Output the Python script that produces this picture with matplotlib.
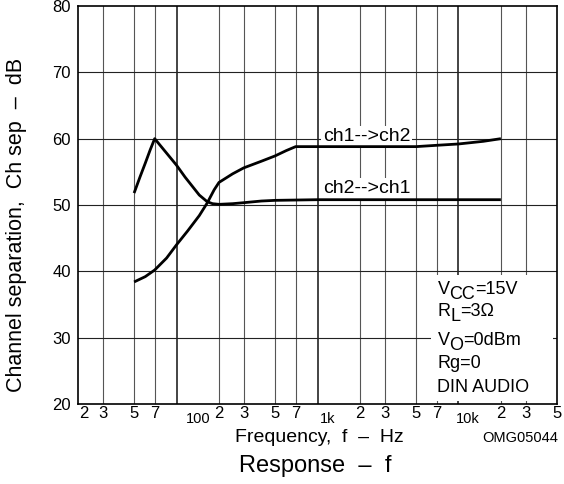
#!/usr/bin/env python3
# -*- coding: utf-8 -*-

"""
Channel separation vs frequency (datasheet style chart).
"""

import matplotlib
matplotlib.use("Agg")
from matplotlib import pyplot as plt
from matplotlib import transforms as mtransforms
from matplotlib.patches import Rectangle

# DATA ########################################################################

# ch1 --> ch2 (rising curve)
ch12_freq = [50, 60, 70, 85, 100, 120, 145, 165, 185, 200, 250, 300, 400,
             500, 600, 700, 1000, 2000, 5000, 7000, 10000, 15000, 20000]
ch12_db = [38.4, 39.2, 40.2, 42.0, 44.0, 46.1, 48.4, 50.3, 52.3, 53.4, 54.7,
           55.6, 56.6, 57.4, 58.2, 58.8, 58.8, 58.8, 58.8, 59.0, 59.2, 59.6,
           60.0]

# ch2 --> ch1 (peaking curve)
ch21_freq = [50, 55, 60, 65, 70, 80, 100, 115, 145, 165, 180, 200, 250, 300,
             400, 500, 1000, 5000, 20000]
ch21_db = [51.8, 54.2, 56.3, 58.3, 60.0, 58.5, 56.0, 54.2, 51.5, 50.5, 50.2,
           50.1, 50.2, 50.35, 50.6, 50.7, 50.8, 50.8, 50.8]

x_min, x_max = 20, 50000
y_min, y_max = 20, 80
y_ticks = [20, 30, 40, 50, 60, 70, 80]

grid_minor = [30, 50, 70, 200, 300, 500, 700, 2000, 3000, 5000, 7000,
              20000, 30000]
grid_major = [100, 1000, 10000]

digit_pos = [20, 30, 50, 70, 200, 300, 500, 700, 2000, 3000, 5000, 7000,
             20000, 30000, 50000]
digit_txt = ["2", "3", "5", "7", "2", "3", "5", "7", "2", "3", "5", "7",
             "2", "3", "5"]
decade_pos = [100, 1000, 10000]
decade_txt = ["100", "1k", "10k"]

cond_lines = ["V", "R", "V", "Rg=0", "DIN AUDIO"]
cond_subs = ["CC", "L", "O", "", ""]
cond_rest = ["=15V", "=3\u03a9", "=0dBm", "", ""]
cond_y = [36.6, 33.2, 28.9, 25.4, 21.85]

# PLOT ########################################################################

plt.rcParams["font.family"] = ["Liberation Sans", "DejaVu Sans"]

fig = plt.figure(figsize=(5.64, 4.84), dpi=100)
ax = fig.add_axes([78 / 564, 1 - 404 / 484, 479 / 564, 398 / 484])

ax.set_xscale("log")
ax.set_xlim(x_min, x_max)
ax.set_ylim(y_min, y_max)

# Grid ###############

for f in grid_minor:
    ax.axvline(f, color="#555555", lw=0.8, zorder=1)
for f in grid_major:
    ax.axvline(f, color="#111111", lw=1.1, zorder=1)
for v in y_ticks[1:-1]:
    ax.axhline(v, color="#222222", lw=0.8, zorder=1)

ax.set_xticks([])
ax.set_xticks([], minor=True)
ax.set_yticks(y_ticks)
ax.tick_params(axis="y", length=0, pad=5, labelsize=12)
for sp in ax.spines.values():
    sp.set_linewidth(1.2)
    sp.set_zorder(5)

# Conditions box hides the grid
ax.add_patch(Rectangle((6400, 20.5), 46800 - 6400, 39.5 - 20.5,
                       facecolor="white", edgecolor="none", zorder=2))

# Curves #############

ax.plot(ch12_freq, ch12_db, color="black", lw=2.0, zorder=4,
        solid_capstyle="butt")
ax.plot(ch21_freq, ch21_db, color="black", lw=2.0, zorder=4,
        solid_capstyle="butt")

ax.text(1090, 59.7, "ch1-->ch2", fontsize=14, va="baseline", zorder=3,
        bbox=dict(facecolor="white", edgecolor="none", pad=1.5))
ax.text(1090, 51.75, "ch2-->ch1", fontsize=14, va="baseline", zorder=3,
        bbox=dict(facecolor="white", edgecolor="none", pad=1.5))

# Conditions text ####

for name, sub, rest, yv in zip(cond_lines, cond_subs, cond_rest, cond_y):
    t = ax.text(7100, yv, name, fontsize=13, va="baseline", zorder=6)
    if sub:
        t2 = ax.annotate(sub, xy=(1, 0), xycoords=t, xytext=(0, -3.5),
                         textcoords="offset points", fontsize=13,
                         va="bottom", zorder=6)
        ax.annotate(rest, xy=(1, 0), xycoords=t2, xytext=(0, 3.5),
                    textcoords="offset points", fontsize=13,
                    va="bottom", zorder=6)

# X tick labels ######

trans = ax.get_xaxis_transform()
for i, (pos, txt) in enumerate(zip(digit_pos, digit_txt)):
    ha = "left" if i == 0 else "center"
    tr = mtransforms.offset_copy(trans, fig=fig, x=1 if i == 0 else 0,
                                 y=-1.5, units="points")
    ax.text(pos, 0, txt, transform=tr, fontsize=12, ha=ha, va="top")

for pos, txt, dx in zip(decade_pos, decade_txt, [6.5, 2, -2]):
    tr = mtransforms.offset_copy(trans, fig=fig, x=dx, y=-6,
                                 units="points")
    ax.text(pos, 0, txt, transform=tr, fontsize=10.5, ha="left", va="top")

# Axis titles ########

fig.text(319 / 564, 1 - 438 / 484, "Frequency,  f  \u2013  Hz", fontsize=14,
         ha="center", va="center")
fig.text(520 / 564, 1 - 438 / 484, "OMG05044", fontsize=10.5,
         ha="center", va="center")
fig.text(315 / 564, 1 - 466 / 484, "Response  \u2013  f", fontsize=17,
         ha="center", va="center")
fig.text(17 / 564, 1 - 225 / 484, "Channel separation,  Ch sep  \u2013  dB",
         fontsize=15.5, rotation=90, ha="center", va="center")

fig.savefig("out.png", dpi=100)
